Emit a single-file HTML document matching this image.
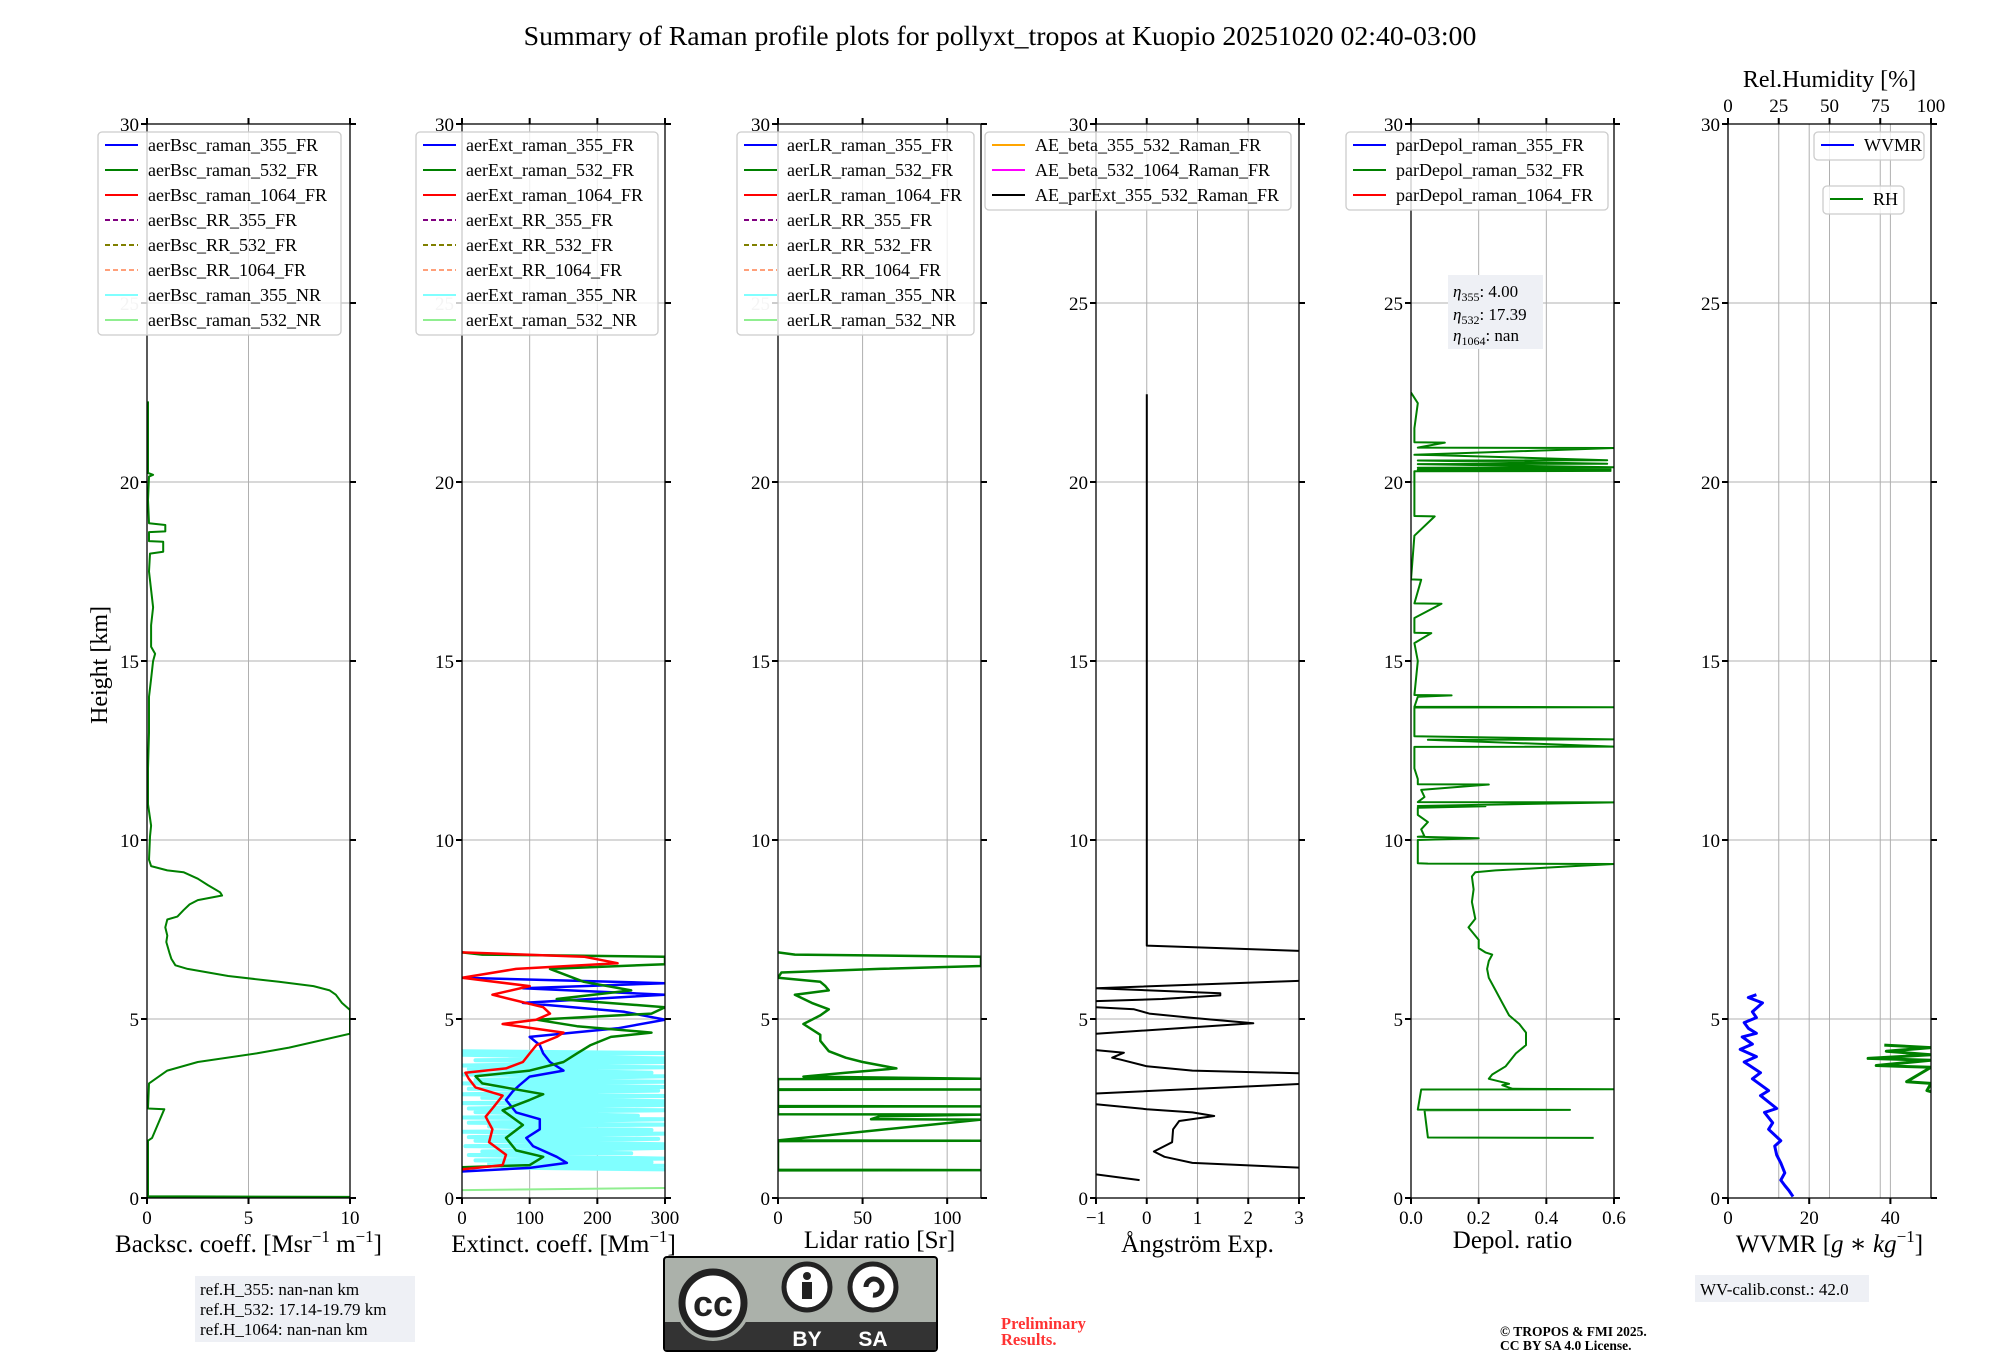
<!DOCTYPE html>
<html><head><meta charset="utf-8">
<style>
html,body{margin:0;padding:0;background:#fff;}
svg{display:block;font-family:"Liberation Serif","DejaVu Serif",serif;}
</style></head>
<body>
<svg id="fig" width="2000" height="1360" viewBox="0 0 2000 1360" xmlns="http://www.w3.org/2000/svg">
<rect x="0" y="0" width="2000" height="1360" fill="#fff"/>
<text x="1000" y="45" text-anchor="middle" font-size="27.8">Summary of Raman profile plots for pollyxt_tropos at Kuopio 20251020 02:40-03:00</text>
<text transform="translate(107,665) rotate(-90)" text-anchor="middle" font-size="24">Height [km]</text>
<g id="plots"></g>
<g id="overlay"></g>
</svg>
<script>
// ---------- data (heights in km) ----------
const heightTicks = [0,5,10,15,20,25,30];
const bscTicks = [0,5,10];
const extTicks = [0,100,200,300];
const lrTicks = [0,50,100];
const aeTicks = [-1,0,1,2,3];
const depTicks = [0,0.2,0.4,0.6];
const depTickLabels = ["0.0","0.2","0.4","0.6"];
const wvTicks = [0,20,40];
const rhTicks = [0,25,50,75,100];

const bsc532H = [0.02,0.03,0.05,1.6,1.68,2.48,2.5,3.2,3.56,3.8,4.04,4.2,4.59,5.25,5.45,5.68,5.8,5.92,6.04,6.2,6.4,6.5,6.68,6.86,7.15,7.33,7.56,7.78,7.86,8.04,8.2,8.32,8.45,8.54,8.74,8.92,9.1,9.15,9.27,9.45,10.1,10.4,11,12,13,14,14.5,15.0,15.2,15.4,16,16.5,17.5,18.0,18.05,18.33,18.35,18.6,18.62,18.8,18.85,19.5,20.15,20.2,20.25,21,22.25];
const bsc532V = [0,10,0.05,0.05,0.25,0.85,0.05,0.1,1.0,2.5,5.4,7,10,10,9.6,9.3,9.0,8.2,6.5,4.0,2.0,1.4,1.2,1.1,0.95,1.0,0.9,1.0,1.5,1.8,2.1,2.5,3.7,3.6,3.0,2.5,1.8,1.0,0.2,0.1,0.15,0.2,0.05,0.05,0.1,0.1,0.2,0.3,0.4,0.2,0.2,0.3,0.1,0.15,0.8,0.8,0.1,0.1,0.9,0.9,0.1,0.05,0.1,0.3,0.05,0.05,0.05];

const ext355H = [0.74,0.84,0.98,1.15,1.45,1.68,1.92,2.2,2.39,2.74,2.98,3.15,3.39,3.56,3.8,4.04,4.27,4.5,4.74,4.98,5.2,5.45,5.68,5.86,6.0,6.15];
const ext355V = [0,100,155,140,105,95,115,115,80,65,75,85,100,150,130,120,115,100,230,300,240,90,300,90,300,0];
const ext532H = [0.86,0.92,1.15,1.33,1.68,2.04,2.45,2.74,2.9,3.2,3.4,3.56,3.8,4.04,4.27,4.5,4.62,4.8,4.98,5.15,5.33,5.56,5.8,6.04,6.4,6.53,6.74,6.8,6.86];
const ext532V = [0,100,120,80,65,90,60,100,120,30,20,100,150,170,190,220,280,170,110,280,300,140,250,180,130,300,300,30,0];
const ext1064H = [0.8,0.92,1.21,1.56,1.92,2.27,2.5,2.86,3.09,3.33,3.5,3.62,3.8,4.04,4.27,4.5,4.62,4.86,4.98,5.15,5.33,5.68,5.92,6.15,6.4,6.56,6.74,6.86];
const ext1064V = [0,60,65,40,45,35,45,60,20,10,5,65,90,100,110,140,150,60,110,130,120,45,100,0,80,230,180,0];
const extNR355H = [0.8,0.85,0.9,0.95,1.0,1.05,1.1,1.2,1.25,1.3,1.4,1.45,1.5,1.6,1.65,1.7,1.8,1.85,1.9,2.0,2.05,2.1,2.2,2.25,2.3,2.4,2.45,2.5,2.6,2.65,2.7,2.8,2.85,2.9,3.0,3.05,3.1,3.2,3.25,3.3,3.4,3.45,3.5,3.6,3.65,3.7,3.8,3.85,3.9,4.0,4.05,4.1];
const extNR355V = [300,60,300,40,280,20,300,10,250,30,300,5,300,20,290,10,300,0,280,40,300,10,300,0,260,20,300,10,300,0,300,30,300,0,290,10,300,0,300,20,300,0,280,10,300,0,300,20,300,0,300,0];
const extNR532H = [0.22,0.28];
const extNR532V = [0,300];

const lr532H = [0.77,0.78,0.79,1.59,1.6,1.61,2.19,2.2,2.28,2.33,2.34,2.55,2.56,2.57,3.02,3.03,3.04,3.32,3.33,3.39,3.5,3.62,3.8,3.92,4.1,4.39,4.56,4.86,5.1,5.27,5.45,5.68,5.8,5.92,6.04,6.15,6.3,6.4,6.48,6.74,6.8,6.86];
const lr532V = [0,120,0,0,120,0,120,55,60,120,0,0,120,0,0,120,0,0,120,15,40,70,50,40,30,25,25,15,25,30,20,10,30,28,25,0,2,60,120,120,10,0];

const aeParExtH = [22.45,7.05,6.9,null,6.07,5.86,5.72,5.66,5.56,5.5,null,5.33,5.27,5.15,5.03,4.88,4.59,null,4.13,4.06,3.92,3.86,3.68,3.56,3.48,null,3.19,2.92,null,2.62,2.48,2.39,2.29,2.15,1.92,1.56,1.3,1.15,0.98,0.84,null,0.66,0.5];
const aeParExtV = [0,0,3.1,null,3.1,-1,1.45,1.45,0.3,-1,null,-1,-0.25,0.05,0.9,2.1,-1,null,-1,-0.45,-0.68,-0.5,0,0.9,3.1,null,3.1,-1,null,-1,0,0.9,1.33,0.64,0.52,0.5,0.14,0.35,0.9,3.1,null,-1,-0.14];

const depol532H = [1.68,1.69,2.45,2.46,2.47,3.03,3.04,3.05,3.15,3.19,3.33,3.45,3.68,4.04,4.27,4.62,4.86,5.1,5.45,5.8,6.15,6.4,6.62,6.8,6.86,6.98,7.21,7.56,7.8,8.27,8.62,8.98,9.1,9.15,9.2,9.27,9.33,9.34,9.35,10.0,10.05,10.09,10.1,10.3,10.5,10.7,10.9,10.94,10.95,11.05,11.06,11.2,11.4,11.55,11.56,11.7,12.0,12.6,12.61,12.8,12.81,12.9,13.2,13.7,13.71,13.72,14.0,14.04,14.05,15.0,15.5,15.78,15.79,16.2,16.6,16.61,17.27,17.28,18.5,19.04,19.05,20.0,20.3,20.31,20.35,20.36,20.4,20.41,20.5,20.51,20.6,20.61,20.75,20.76,20.95,20.96,21.1,21.11,21.5,22.2,22.5];
const depol532V = [0.54,0.05,0.04,0.47,0.02,0.03,0.6,0.3,0.27,0.29,0.23,0.24,0.28,0.31,0.34,0.34,0.32,0.29,0.27,0.25,0.23,0.225,0.23,0.24,0.22,0.2,0.2,0.17,0.19,0.18,0.185,0.18,0.19,0.25,0.35,0.48,0.6,0.05,0.02,0.02,0.2,0.02,0.04,0.03,0.05,0.02,0.02,0.22,0.02,0.6,0.02,0.04,0.03,0.23,0.02,0.02,0.01,0.01,0.6,0.05,0.6,0.01,0.01,0.01,0.6,0.01,0.02,0.12,0.01,0.02,0.01,0.06,0.01,0.01,0.09,0.01,0.03,0.0,0.01,0.07,0.01,0.01,0.01,0.59,0.02,0.59,0.02,0.6,0.02,0.58,0.02,0.58,0.07,0.01,0.6,0.02,0.1,0.01,0.01,0.02,0.0];

const wvmrH = [0.04,0.21,0.35,0.5,0.7,0.98,1.2,1.45,1.6,1.92,2.1,2.39,2.5,2.86,3.0,3.33,3.5,3.8,3.95,4.15,4.3,4.5,4.6,4.74,4.9,5.04,5.2,5.45,5.6,5.68];
const wvmrV = [16,15,14,13,14,13,12,11.5,13,10,11,9,12,8,10,6,8,4,7,3,6,3.5,7,5,4,7,6,8.5,5,7];
const rhH = [2.97,3.0,3.2,3.25,3.65,3.7,3.85,3.9,4.0,4.1,4.2,4.27];
const rhV = [100,98,100,88,100,73,100,69,100,78,100,77];

// ---------- layout ----------
const NS = "http://www.w3.org/2000/svg";
const Y_TOP = 124, Y_BOT = 1198, PW = 203;
const plots = document.getElementById('plots');
function yS(h){ return Y_BOT - (h/30)*(Y_BOT-Y_TOP); }
function mk(tag, attrs, parent){ const e=document.createElementNS(NS,tag); for(const k in attrs) e.setAttribute(k,attrs[k]); (parent||plots).appendChild(e); return e; }

const panels = [
 {x0:147, dom:[0,10], ticks:bscTicks, labels:null, dy:0, xlabel:'Backsc. coeff. [Msr<tspan dy="-10" font-size="17">−1</tspan><tspan dy="10"> m</tspan><tspan dy="-10" font-size="17">−1</tspan><tspan dy="10">]</tspan>', name:'backscatter'},
 {x0:462, dom:[0,300], ticks:extTicks, labels:null, dy:0, xlabel:'Extinct. coeff. [Mm<tspan dy="-10" font-size="17">−1</tspan><tspan dy="10">]</tspan>', name:'extinction'},
 {x0:778, dom:[0,120], ticks:lrTicks, labels:null, dy:-4, xlabel:'Lidar ratio [Sr]', name:'lidar-ratio'},
 {x0:1096, dom:[-1,3], ticks:aeTicks, labels:["−1","0","1","2","3"], dy:0, xlabel:'Ångström Exp.', name:'angstrom'},
 {x0:1411, dom:[0,0.6], ticks:depTicks, labels:depTickLabels, dy:-4, xlabel:'Depol. ratio', name:'depol'},
 {x0:1728, dom:[0,50], ticks:wvTicks, labels:null, dy:0, xlabel:'WVMR [<tspan font-style="italic">g</tspan> ∗ <tspan font-style="italic">kg</tspan><tspan dy="-10" font-size="17">−1</tspan><tspan dy="10">]</tspan>', name:'wvmr'}
];
function xF(p){ return v => p.x0 + (v-p.dom[0])/(p.dom[1]-p.dom[0])*PW; }

panels.forEach((p,i)=>{
  const xs = xF(p);
  const g = mk('g',{});
  
  
  const cp = mk('clipPath',{id:'clip'+i}, g);
  mk('rect',{x:p.x0,y:Y_TOP,width:PW,height:Y_BOT-Y_TOP},cp);
  heightTicks.forEach(h=>{ const l=mk('line',{x1:p.x0,x2:p.x0+PW,y1:yS(h),y2:yS(h),stroke:'#b0b0b0','stroke-width':1},g);
      });
  const xt = p.ticks;
  xt.forEach(v=>{ const l=mk('line',{x1:xs(v),x2:xs(v),y1:Y_TOP,y2:Y_BOT,stroke:'#b0b0b0','stroke-width':1},g);
      });
  if(i===5){ rhTicks.forEach(v=>{ const x=p.x0+v/100*PW; const l=mk('line',{x1:x,x2:x,y1:Y_TOP,y2:Y_BOT,stroke:'#b0b0b0','stroke-width':1},g);
      }); }
  const sg = mk('g',{'clip-path':'url(#clip'+i+')'},g);
  
  
  p.sg = sg; p.xs = xs;
  const fr = mk('rect',{x:p.x0,y:Y_TOP,width:PW,height:Y_BOT-Y_TOP,fill:'none',stroke:'#000','stroke-width':1.3},g);
   
  heightTicks.forEach(h=>{
    mk('line',{x1:p.x0-6,x2:p.x0,y1:yS(h),y2:yS(h),stroke:'#000','stroke-width':2},g);
    mk('line',{x1:p.x0+PW,x2:p.x0+PW+6,y1:yS(h),y2:yS(h),stroke:'#000','stroke-width':2},g);
    const t=mk('text',{x:p.x0-8,y:yS(h)+7,'text-anchor':'end','font-size':19, fill:(h===25 && i<3)?'#c8c8c8':'#000'},g);
    t.textContent=String(h);
     
  });
  xt.forEach((v,k)=>{
    mk('line',{x1:xs(v),x2:xs(v),y1:Y_BOT,y2:Y_BOT+6,stroke:'#000','stroke-width':2},g);
    if(i<5) mk('line',{x1:xs(v),x2:xs(v),y1:Y_TOP-6,y2:Y_TOP,stroke:'#000','stroke-width':2},g);
    const t=mk('text',{x:xs(v),y:Y_BOT+26,'text-anchor':'middle','font-size':19},g);
    t.textContent = p.labels ? p.labels[k] : String(v);
     
  });
  const xl = mk('text',{x:p.x0+PW/2,y:Y_BOT+54+p.dy,'text-anchor':'middle','font-size':25},g);
  xl.innerHTML = p.xlabel;
   
});
(function(){
  const p=panels[5];
  rhTicks.forEach(v=>{ const x=p.x0+v/100*PW;
    mk('line',{x1:x,x2:x,y1:Y_TOP-6,y2:Y_TOP,stroke:'#000','stroke-width':2});
    const t=mk('text',{x:x,y:Y_TOP-12,'text-anchor':'middle','font-size':19}); t.textContent=String(v);
      });
  const t=mk('text',{x:p.x0+PW/2,y:Y_TOP-37,'text-anchor':'middle','font-size':24}); t.textContent='Rel.Humidity [%]';
   
})();

function drawSeries(pi, H, V, color, name, width, xfun){
  const p = panels[pi]; const xs = xfun || p.xs;
  let d='', pen=false;
  for(let k=0;k<H.length;k++){
    if(H[k]===null){ pen=false; continue; }
    d += (pen?'L':'M') + xs(V[k]).toFixed(1) + ' ' + yS(H[k]).toFixed(1) + ' ';
    pen=true;
  }
  const e = mk('path',{d:d,fill:'none',stroke:color,'stroke-width':width||2,'stroke-linejoin':'round'},p.sg);
  
  
}
drawSeries(0, bsc532H, bsc532V, '#008000', 'aerBsc-raman-532-line');
drawSeries(1, extNR355H, extNR355V, '#80ffff', 'aerExt-raman-355-NR-line', 4);
drawSeries(1, extNR532H, extNR532V, '#90ee90', 'aerExt-raman-532-NR-line');
drawSeries(1, ext355H, ext355V, '#0000ff', 'aerExt-raman-355-line', 2.5);
drawSeries(1, ext532H, ext532V, '#008000', 'aerExt-raman-532-line', 2.5);
drawSeries(1, ext1064H, ext1064V, '#ff0000', 'aerExt-raman-1064-line', 2.5);
drawSeries(2, lr532H, lr532V, '#008000', 'aerLR-raman-532-line', 2.5);
drawSeries(3, aeParExtH, aeParExtV, '#000000', 'AE-parExt-355-532-line', 2);
drawSeries(4, depol532H, depol532V, '#008000', 'parDepol-raman-532-line', 2);
drawSeries(5, wvmrH, wvmrV, '#0000ff', 'wvmr-line', 3);
drawSeries(5, rhH, rhV, '#008000', 'rh-line', 3, v => panels[5].x0 + v/100*PW);

// ---------- legends ----------
const ov = document.getElementById('overlay');
function legend(x, y, w, entries, name){
  const g = mk('g',{},ov);
  
  
  const h = entries.length*25 + 3;
  mk('rect',{x:x,y:y,width:w,height:h,rx:4,fill:'rgba(255,255,255,0.8)',stroke:'#cccccc','stroke-width':1.3},g);
  entries.forEach((en,k)=>{
    const cy = y+13+k*25;
    mk('line',{x1:x+7,x2:x+40,y1:cy,y2:cy,stroke:en[1],'stroke-width':2,'stroke-dasharray':en[2]?'5,3':'none'},g);
    const t = mk('text',{x:x+50,y:cy+6,'font-size':18},g);
    t.textContent = en[0];
     
  });
}
const cl = ['#0000ff','#008000','#ff0000','#800080','#808000','#ffa07a','#80ffff','#90ee90'];
const dsh = [false,false,false,true,true,true,false,false];
const suf = ['raman_355_FR','raman_532_FR','raman_1064_FR','RR_355_FR','RR_532_FR','RR_1064_FR','raman_355_NR','raman_532_NR'];
legend(98,132,243, suf.map((s,k)=>['aerBsc_'+s,cl[k],dsh[k]]), 'backscatter-legend');
legend(416,132,242, suf.map((s,k)=>['aerExt_'+s,cl[k],dsh[k]]), 'extinction-legend');
legend(737,132,237, suf.map((s,k)=>['aerLR_'+s,cl[k],dsh[k]]), 'lidar-ratio-legend');
legend(985,132,306, [['AE_beta_355_532_Raman_FR','#ffa500'],['AE_beta_532_1064_Raman_FR','#ff00ff'],['AE_parExt_355_532_Raman_FR','#000000']], 'angstrom-legend');
legend(1346,132,262, [['parDepol_raman_355_FR','#0000ff'],['parDepol_raman_532_FR','#008000'],['parDepol_raman_1064_FR','#ff0000']], 'depol-legend');
legend(1814,132,110, [['WVMR','#0000ff']], 'wvmr-legend');
legend(1823,186,81, [['RH','#008000']], 'rh-legend');
</script>
<svg style="position:absolute;left:0;top:0" width="2000" height="1360" viewBox="0 0 2000 1360" xmlns="http://www.w3.org/2000/svg" font-family="Liberation Serif, DejaVu Serif, serif">
<g>
<rect x="1448" y="275" width="95" height="74" fill="#eef0f5"/>
<text x="1453" y="297" font-size="17"><tspan font-style="italic">η</tspan><tspan font-size="12" dy="4">355</tspan><tspan dy="-4">: 4.00</tspan></text>
<text x="1453" y="320" font-size="17"><tspan font-style="italic">η</tspan><tspan font-size="12" dy="4">532</tspan><tspan dy="-4">: 17.39</tspan></text>
<text x="1453" y="341" font-size="17"><tspan font-style="italic">η</tspan><tspan font-size="12" dy="4">1064</tspan><tspan dy="-4">: nan</tspan></text>
</g>
<g>
<rect x="195" y="1276" width="220" height="66" fill="#eef0f5"/>
<text x="200" y="1295" font-size="17">ref.H_355: nan-nan km</text>
<text x="200" y="1315" font-size="17">ref.H_532: 17.14-19.79 km</text>
<text x="200" y="1335" font-size="17">ref.H_1064: nan-nan km</text>
</g>
<g>
<rect x="1695" y="1275" width="174" height="27" fill="#eef0f5"/>
<text x="1700" y="1295" font-size="17">WV-calib.const.: 42.0</text>
</g>
<g>
<rect x="664" y="1257" width="273" height="94" rx="3" fill="#abb1aa" stroke="#000" stroke-width="2"/>
<rect x="665" y="1322" width="271" height="28" fill="#333"/>
<circle cx="713" cy="1303" r="38" fill="#abb1aa"/>
<circle cx="713" cy="1303" r="31" fill="#fff" stroke="#222" stroke-width="7"/>
<text x="713" y="1316" text-anchor="middle" font-family="Liberation Sans, sans-serif" font-weight="bold" font-size="36" fill="#222">cc</text>
<circle cx="807" cy="1287" r="23" fill="#fff" stroke="#222" stroke-width="5"/>
<circle cx="807" cy="1276" r="4" fill="#222"/>
<rect x="802" y="1282" width="10" height="17" fill="#222"/>
<circle cx="873" cy="1287" r="23" fill="#fff" stroke="#222" stroke-width="5"/>
<path d="M866 1287 A8 8 0 1 1 873 1295" fill="none" stroke="#222" stroke-width="5"/>
<text x="807" y="1346" text-anchor="middle" font-family="Liberation Sans, sans-serif" font-weight="bold" font-size="21" fill="#fff">BY</text>
<text x="873" y="1346" text-anchor="middle" font-family="Liberation Sans, sans-serif" font-weight="bold" font-size="21" fill="#fff">SA</text>
</g>
<text x="1001" y="1329" font-size="16.5" font-weight="bold" fill="#ff3333">Preliminary</text>
<text x="1001" y="1345" font-size="16.5" font-weight="bold" fill="#ff3333">Results.</text>
<text x="1500" y="1336" font-size="13.5" font-weight="bold">© TROPOS &amp; FMI 2025.</text>
<text x="1500" y="1350" font-size="13.5" font-weight="bold">CC BY SA 4.0 License.</text>
</svg>
</body></html>
